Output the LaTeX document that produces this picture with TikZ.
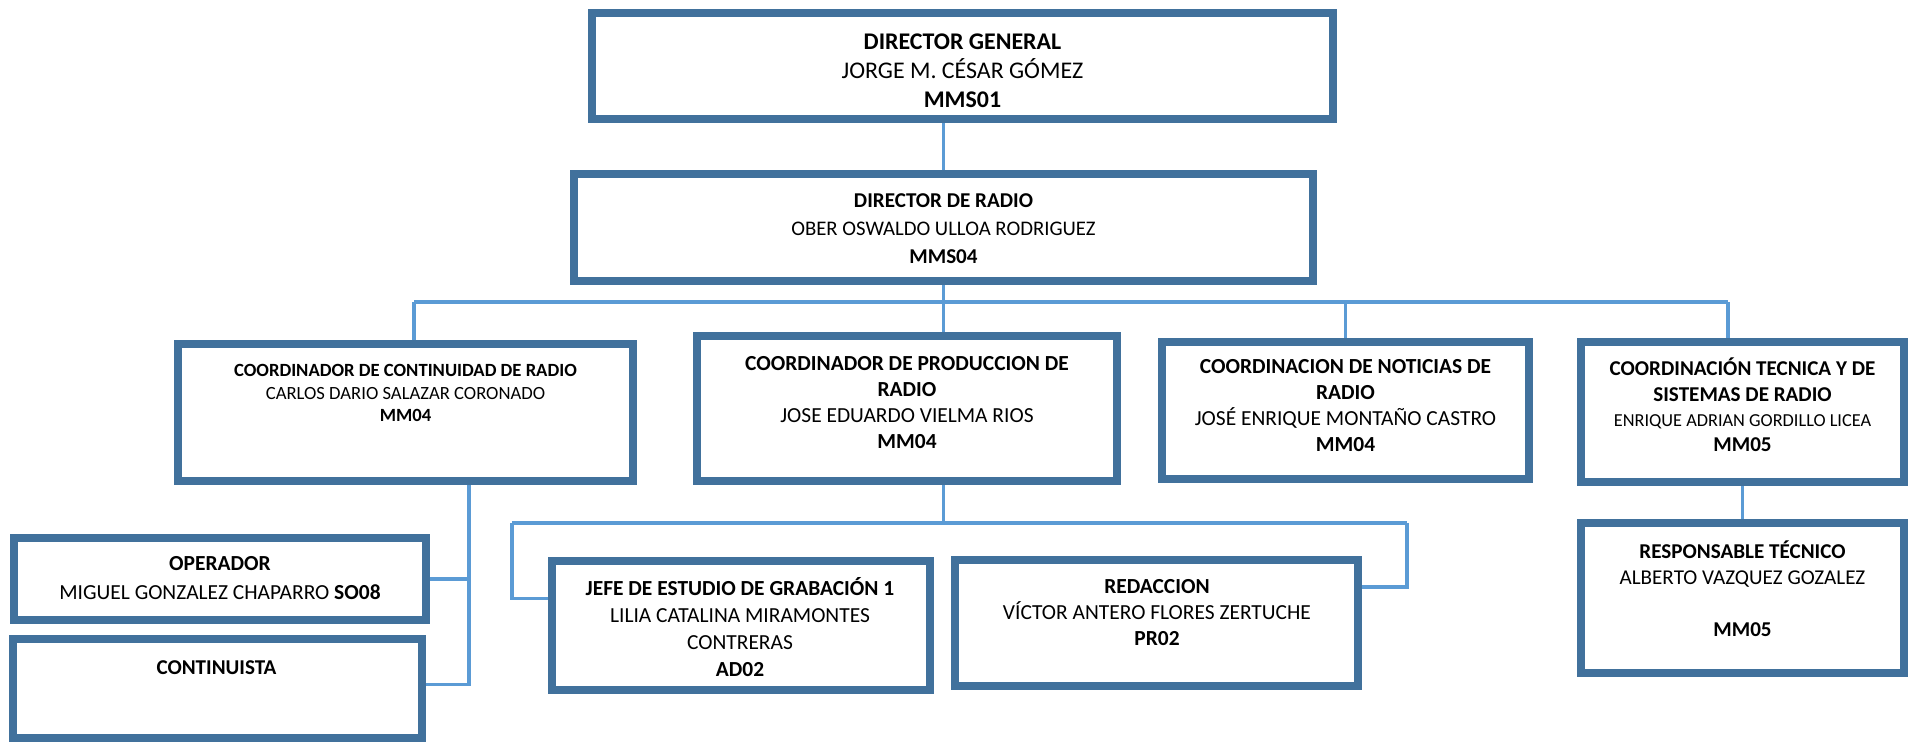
\documentclass[tikz,border=0pt]{standalone}
\usepackage{fontspec}
\setmainfont{Carlito}
\usetikzlibrary{positioning,backgrounds}
\definecolor{boxblue}{RGB}{65,113,156}
\definecolor{linkblue}{RGB}{91,155,213}
\tikzset{
  box/.style={draw=boxblue, line width=2.3pt, fill=white, inner sep=0pt},
  link/.style={draw=linkblue, line width=1pt},
  txt/.style={align=center, inner sep=0pt, text=black},
}
\newcommand{\fs}[2]{\fontsize{#1}{#2}\selectfont}

\begin{document}
\begin{tikzpicture}[x=0.01cm, y=-0.01cm]
    \useasboundingbox (0,0) rectangle (1917,746);

    % Direction
    \node[box, minimum width=7.41cm, minimum height=1.06cm] (dg) at (962.5,66) {};
    \node[box, minimum width=7.39cm, minimum height=1.07cm] (dr) at (943.5,227.5) {};
    \node[txt, font=\fs{6.8}{8.25}] (dgtxt) at (962.5,71)
        {\textbf{DIRECTOR GENERAL}\\JORGE M. CÉSAR GÓMEZ\\\textbf{MMS01}};
    \node[txt, font=\fs{6}{8}] (drtxt) at (943.5,229)
        {\textbf{DIRECTOR DE RADIO}\\{\fs{5.9}{8}OBER OSWALDO ULLOA RODRIGUEZ}\\\textbf{MMS04}};

    % Coordinations
    \node[box, minimum width=4.55cm, minimum height=1.37cm] (ccr) at (405.5,412.5) {};
    \node[box, minimum width=4.20cm, minimum height=1.45cm] (cpr) at (907,408.5) {};
    \node[box, minimum width=3.67cm, minimum height=1.37cm] (cnr) at (1345.5,410.5) {};
    \node[box, minimum width=3.23cm, minimum height=1.40cm] (cts) at (1742.5,412) {};
    \node[txt, font=\fs{5.3}{6.5}] (ccrtxt) at (405.5,393)
        {\textbf{COORDINADOR DE CONTINUIDAD DE RADIO}\\CARLOS DARIO SALAZAR CORONADO\\\textbf{MM04}};
    \node[txt, font=\fs{6.1}{7.4}] (cprtxt) at (907,402.5)
        {\textbf{COORDINADOR DE PRODUCCION DE}\\\textbf{RADIO}\\JOSE EDUARDO VIELMA RIOS\\\textbf{MM04}};
    \node[txt, font=\fs{6.1}{7.4}] (cnrtxt) at (1345.5,406)
        {\textbf{COORDINACION DE NOTICIAS DE}\\\textbf{RADIO}\\JOSÉ ENRIQUE MONTAÑO CASTRO\\\textbf{MM04}};
    \node[txt, font=\fs{6}{7.2}] (ctstxt) at (1742.5,405)
        {\textbf{COORDINACIÓN TECNICA Y DE}\\\textbf{SISTEMAS DE RADIO}\\{\fs{5.2}{7.2}ENRIQUE ADRIAN GORDILLO LICEA}\\\textbf{MM05}};

    % Staff
    \node[box, minimum width=4.12cm, minimum height=0.82cm] (op) at (220,579) {};
    \node[box, minimum width=4.09cm, minimum height=0.99cm] (cont) at (217.5,688.5) {};
    \node[box, minimum width=3.78cm, minimum height=1.29cm] (jefe) at (741,625.5) {};
    \node[box, minimum width=4.03cm, minimum height=1.26cm] (red) at (1156.5,623) {};
    \node[box, minimum width=3.23cm, minimum height=1.50cm] (rt) at (1742.5,598) {};
    \node[txt, font=\fs{6.1}{8}] (optxt) at (220,578)
        {\textbf{OPERADOR}\\MIGUEL GONZALEZ CHAPARRO \textbf{SO08}};
    \node[txt, font=\fs{6}{7.4}] (conttxt) at (216.5,668) {\textbf{CONTINUISTA}};
    \node[txt, font=\fs{6.1}{7.6}] (jefetxt) at (740,627)
        {\textbf{JEFE DE ESTUDIO DE GRABACIÓN 1}\\LILIA CATALINA MIRAMONTES\\CONTRERAS\\\textbf{AD02}};
    \node[txt, font=\fs{6.1}{7.5}] (redtxt) at (1157,612.5)
        {\textbf{REDACCION}\\VÍCTOR ANTERO FLORES ZERTUCHE\\\textbf{PR02}};
    \node[txt, font=\fs{6}{7.4}] (rttxt) at (1742.5,588.5)
        {\textbf{RESPONSABLE TÉCNICO}\\ALBERTO VAZQUEZ GOZALEZ\\[7.4pt]\textbf{MM05}};

    % Connectors
    \coordinate (busL) at (414,302);
    \coordinate (busR) at (1728,302);
    \coordinate (ctrunk) at (469,485);
    \coordinate (pbusL) at (512,523);
    \coordinate (pbusR) at (1407,523);
    \begin{scope}[on background layer]
        \draw[link] (dr.north) -- (dr.north |- dg.south);
        \draw[link] (dr.south) -- (dr.south |- cpr.north);
        \draw[link] (busL) -- (busR);
        \draw[link] (busL) -- (busL |- ccr.north);
        \draw[link] (cnr.north |- busL) -- (cnr.north);
        \draw[link] (busR) -- (busR |- cts.north);
        \draw[link] (ctrunk) |- ([yshift=0.04cm]cont.east);
        \draw[link] (op.east) -- (op.east -| ctrunk);
        \draw[link] (dr.south |- cpr.south) -- (dr.south |- pbusL);
        \draw[link] (pbusL) -- (pbusR);
        \draw[link] (pbusL) |- ([yshift=0.27cm]jefe.west);
        \draw[link] (pbusR) |- ([yshift=0.36cm]red.east);
        \draw[link] (cts.south) -- (rt.north);
    \end{scope}
\end{tikzpicture}
\end{document}
